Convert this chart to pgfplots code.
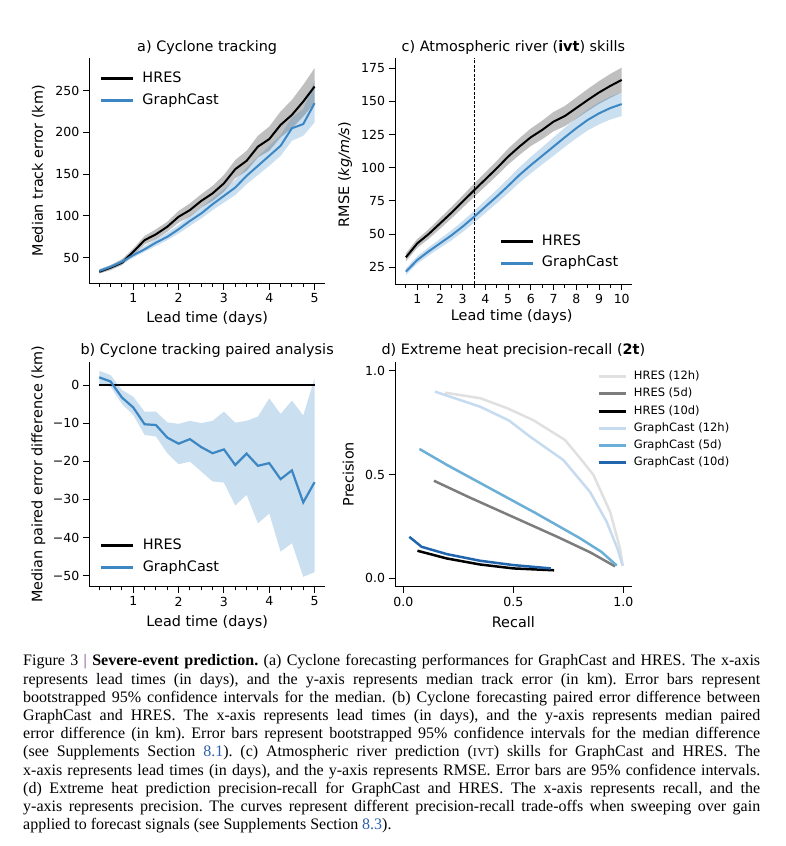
\documentclass[border=0pt]{standalone}
\usepackage{pgfplots}
\pgfplotsset{compat=1.18}
\usepackage{pgfplotstable}
\usepackage{fontspec}
\setmainfont{DejaVu Sans}
\newfontfamily\capfont{Liberation Serif}

\definecolor{gcblue}{RGB}{60,135,195}
\definecolor{hres12}{RGB}{224,224,224}
\definecolor{hres5}{RGB}{125,125,125}
\definecolor{gc12}{RGB}{198,219,239}
\definecolor{gc5}{RGB}{107,174,214}
\definecolor{gc10}{RGB}{33,102,172}
\definecolor{capblue}{RGB}{45,95,170}
\definecolor{capbar}{RGB}{120,60,130}

% a) median track error (km)
\pgfplotstableread{
x    hres gc
0.25 33   34
0.50 38   39
0.75 44   45
1.00 57   53
1.25 71   60
1.50 78   68
1.75 87   75
2.00 99   84
2.25 107  94
2.50 118  103
2.75 127  114
3.00 139  124
3.25 156  134
3.50 166  148
3.75 183  160
4.00 192  172
4.25 209  184
4.50 221  205
4.75 237  210
5.00 255  235
}\cyctrack

% b) paired error difference (km)
\pgfplotstableread{
x    gc
0.25 2.0
0.50 0.9
0.75 -3.3
1.00 -5.9
1.25 -10.3
1.50 -10.5
1.75 -13.8
2.00 -15.4
2.25 -14.2
2.50 -16.3
2.75 -17.9
3.00 -16.9
3.25 -21.0
3.50 -18.0
3.75 -21.2
4.00 -20.5
4.25 -24.7
4.50 -22.4
4.75 -30.8
5.00 -25.5
}\cycpair

% c) ivt RMSE
\pgfplotstableread{
x    hres  gc
0.5  32.5  21.7
1.0  43.0  30.5
1.5  50.0  37.0
2.0  58.0  43.0
2.5  66.0  49.0
3.0  74.5  55.7
3.5  83.0  63.0
4.0  91.3  70.7
4.5  99.6  78.3
5.0  108.4 86.3
5.5  116.0 94.6
6.0  123.0 102.0
6.5  128.5 109.0
7.0  134.8 116.0
7.5  139.0 123.0
8.0  145.0 129.8
8.5  151.0 136.0
9.0  156.7 141.0
9.5  161.7 145.0
10.0 166.2 148.0
}\ivt

\pgfplotsset{
  mpl/.style={
    scale only axis,
    axis x line*=bottom, axis y line*=left,
    axis line style={-, line width=0.9pt},
    tick align=outside,
    major tick length=6.5pt, minor tick length=3.8pt,
    every tick/.style={black, line width=0.9pt},
    tick label style={font=\fontsize{12.5}{14}\selectfont},
    /pgf/number format/assume math mode=true,
    label style={font=\fontsize{14.4}{16}\selectfont},
    xlabel style={at={(axis description cs:0.5,-0.155)}, anchor=center},
    title style={font=\fontsize{14.4}{16}\selectfont, at={(axis description cs:0.5,1.005)}, anchor=base},
    legend cell align=left,
    legend image code/.code={\draw[##1, line width=3.2pt] (0pt,0pt) -- (32pt,0pt); \path (39pt,0pt);},
    legend style={draw=none, fill=none, anchor=north west, inner sep=0pt,
      font=\fontsize{14.4}{16}\selectfont, row sep=5.2pt,
      nodes={inner sep=1pt, text height=11pt, text depth=3.5pt}},
  },
  hband/.style={draw=none, fill=black, fill opacity=0.25, forget plot},
  gband/.style={draw=none, fill=gcblue, fill opacity=0.27, forget plot},
}

\begin{document}
\begin{tikzpicture}
\path[use as bounding box] (0,0) rectangle (785pt,846pt);

% ---------- a) Cyclone tracking
\begin{axis}[mpl, at={(89.3pt,562.7pt)}, anchor=south west,
  width=235.7pt, height=225pt,
  xmin=0.03, xmax=5.23, ymin=19.3, ymax=288.8,
  xtick={1,2,3,4,5}, minor xtick={0.25,0.5,...,5},
  ytick={50,100,150,200,250},
  title={a) Cyclone tracking},
  xlabel={Lead time (days)}, ylabel={Median track error (km)},
  ylabel style={at={(axis description cs:-0.216,0.5)}, anchor=center},
  legend style={at={(axis description cs:0.044,0.946)}}]
  \addplot[hband] coordinates {
    (0.25,36) (0.5,41) (0.75,48) (1,61) (1.25,76) (1.5,84) (1.75,93) (2,106)
    (2.25,115) (2.5,126) (2.75,136) (3,149) (3.25,167) (3.5,178) (3.75,196)
    (4,207) (4.25,225) (4.5,239) (4.75,257) (5,277)
    (5,235) (4.75,219) (4.5,205) (4.25,194) (4,178) (3.75,170) (3.5,154)
    (3.25,145) (3,129) (2.75,118) (2.5,110) (2.25,99) (2,92) (1.75,81)
    (1.5,72) (1.25,66) (1,53) (0.75,41) (0.5,35) (0.25,31)};
  \addplot[gband] coordinates {
    (0.25,36) (0.5,41) (0.75,48) (1,56) (1.25,64) (1.5,72) (1.75,80) (2,89)
    (2.25,100) (2.5,110) (2.75,121) (3,132) (3.25,143) (3.5,158) (3.75,171)
    (4,184) (4.25,197) (4.5,218) (4.75,228) (5,262)
    (5,212) (4.75,196) (4.5,190) (4.25,172) (4,160) (3.75,149) (3.5,138)
    (3.25,125) (3,116) (2.75,107) (2.5,97) (2.25,88) (2,79) (1.75,71)
    (1.5,64) (1.25,57) (1,50) (0.75,42) (0.5,37) (0.25,32)};
  \addplot[black, line width=2pt] table[x=x, y=hres] {\cyctrack};
  \addlegendentry{HRES}
  \addplot[gcblue, line width=2pt] table[x=x, y=gc] {\cyctrack};
  \addlegendentry{GraphCast}
\end{axis}

% ---------- b) Cyclone tracking paired analysis
\begin{axis}[mpl, at={(89.3pt,259.3pt)}, anchor=south west,
  width=235.7pt, height=225pt,
  xmin=0.03, xmax=5.23, ymin=-52.9, ymax=6.1,
  xtick={1,2,3,4,5}, minor xtick={0.25,0.5,...,5},
  ytick={0,-10,-20,-30,-40,-50},
  yticklabels={0,−10,−20,−30,−40,−50},
  title={b) Cyclone tracking paired analysis},
  xlabel={Lead time (days)}, ylabel={Median paired error difference (km)},
  xlabel style={at={(axis description cs:0.5,-0.161)}},
  ylabel style={at={(axis description cs:-0.216,0.5)}, anchor=center},
  legend style={at={(axis description cs:0.044,0.22)}}]
  \addplot[gband] coordinates {
    (0.25,3.7) (0.5,2.6) (0.75,-1.3) (1,-3.1) (1.25,-7) (1.5,-7) (1.75,-9.8)
    (2,-10.2) (2.25,-9.4) (2.5,-10) (2.75,-9.4) (3,-7) (3.25,-9.9) (3.5,-9.4)
    (3.75,-8.3) (4,-3.5) (4.25,-7.6) (4.5,-4.1) (4.75,-8) (5,1.7)
    (5,-49.1) (4.75,-50.3) (4.5,-41.5) (4.25,-43.7) (4,-33.7) (3.75,-36.3)
    (3.5,-28.8) (3.25,-31.6) (3,-25.6) (2.75,-25.3) (2.5,-22.7) (2.25,-20.1)
    (2,-20.8) (1.75,-17.9) (1.5,-13.5) (1.25,-13.1) (1,-7.9) (0.75,-5)
    (0.5,-0.5) (0.25,0.3)};
  \addplot[black, line width=2.6pt] coordinates {(0.25,0) (5,0)};
  \addlegendentry{HRES}
  \addplot[gcblue, line width=2.2pt] table[x=x, y=gc] {\cycpair};
  \addlegendentry{GraphCast}
\end{axis}

% ---------- c) Atmospheric river (ivt) skills
\begin{axis}[mpl, at={(395pt,562pt)}, anchor=south west,
  width=236.7pt, height=225.7pt,
  xmin=0.02, xmax=10.44, ymin=12.4, ymax=182.5,
  xtick={1,2,...,10}, minor xtick={0.5,1,...,10},
  ytick={25,50,...,175},
  title={c) Atmospheric river (\textbf{ivt}) skills},
  xlabel={Lead time (days)}, ylabel={RMSE (\textit{kg/m/s})},
  xlabel style={at={(axis description cs:0.493,-0.145)}},
  ylabel style={at={(axis description cs:-0.211,0.485)}, anchor=center},
  legend style={at={(axis description cs:0.44,0.226)}}]
  \addplot[hband] coordinates {
    (0.5,35.5) (1,46.3) (1.5,53.6) (2,62) (2.5,70.3) (3,79.1) (3.5,88) (4,96.6)
    (4.5,105.2) (5,114.4) (5.5,122.3) (6,129.6) (6.5,135.5) (7,142.1)
    (7.5,146.6) (8,153) (8.5,159.3) (9,165.3) (9.5,170.7) (10,175.5)
    (10,156.9) (9.5,152.7) (9,148.1) (8.5,142.7) (8,137) (7.5,131.4) (7,127.5)
    (6.5,121.5) (6,116.4) (5.5,109.7) (5,102.4) (4.5,94) (4,86) (3.5,78)
    (3,69.9) (2.5,61.7) (2,54) (1.5,46.4) (1,39.7) (0.5,29.5)};
  \addplot[gband] coordinates {
    (0.5,24.2) (1,33.3) (1.5,40.1) (2,46.4) (2.5,52.8) (3,59.8) (3.5,67.4)
    (4,75.5) (4.5,83.4) (5,91.8) (5.5,100.4) (6,108.2) (6.5,115.5) (7,122.9)
    (7.5,130.2) (8,137.4) (8.5,143.9) (9,149.3) (9.5,153.6) (10,157)
    (10,139) (9.5,136.4) (9,132.7) (8.5,128.1) (8,122.2) (7.5,115.8) (7,109.1)
    (6.5,102.5) (6,95.8) (5.5,88.8) (5,80.8) (4.5,73.2) (4,65.9) (3.5,58.6)
    (3,51.6) (2.5,45.2) (2,39.6) (1.5,33.9) (1,27.7) (0.5,19.2)};
  \addplot[black, line width=0.9pt, dash pattern=on 3pt off 1.5pt, forget plot]
    coordinates {(3.5,12.4) (3.5,182.5)};
  \addplot[black, line width=2pt] table[x=x, y=hres] {\ivt};
  \addlegendentry{HRES}
  \addplot[gcblue, line width=2pt] table[x=x, y=gc] {\ivt};
  \addlegendentry{GraphCast}
\end{axis}

% ---------- d) Extreme heat precision-recall (2t)
\begin{axis}[mpl, at={(395pt,259.3pt)}, anchor=south west,
  width=236.7pt, height=225pt,
  xmin=-0.038, xmax=1.038, ymin=-0.04, ymax=1.043,
  xtick={0,0.5,1}, xticklabels={0.0,0.5,1.0},
  ytick={0,0.5,1}, yticklabels={0.0,0.5,1.0},
  title={d) Extreme heat precision-recall (\textbf{2t})},
  xlabel={Recall}, ylabel={Precision},
  xlabel style={at={(axis description cs:0.5,-0.156)}},
  ylabel style={at={(axis description cs:-0.197,0.5)}, anchor=center},
  legend image code/.code={\draw[#1, line width=3pt] (0pt,0pt) -- (27pt,0pt); \path (33pt,0pt);},
  legend style={at={(axis description cs:0.853,0.963)}, row sep=4.2pt,
    font=\fontsize{11.5}{13}\selectfont,
    nodes={inner sep=1pt, text height=8.5pt, text depth=2.5pt}}]
  \addplot[hres12, line width=2.5pt] coordinates {
    (0.19,0.894) (0.35,0.867) (0.47,0.82) (0.59,0.762) (0.735,0.666)
    (0.81,0.57) (0.864,0.498) (0.94,0.32) (0.985,0.144) (0.997,0.061)};
  \addlegendentry{HRES (12h)}
  \addplot[hres5, line width=2.5pt] coordinates {
    (0.139,0.470) (0.3,0.39) (0.5,0.295) (0.7,0.2) (0.85,0.125) (0.962,0.058)};
  \addlegendentry{HRES (5d)}
  \addplot[black, line width=2.5pt] coordinates {
    (0.064,0.133) (0.197,0.096) (0.348,0.067) (0.5,0.048) (0.685,0.039)};
  \addlegendentry{HRES (10d)}
  \addplot[gc12, line width=2.5pt] coordinates {
    (0.144,0.899) (0.348,0.827) (0.48,0.76) (0.576,0.682) (0.727,0.570)
    (0.848,0.417) (0.924,0.273) (0.973,0.144) (0.997,0.061)};
  \addlegendentry{GraphCast (12h)}
  \addplot[gc5, line width=2.5pt] coordinates {
    (0.073,0.623) (0.2,0.545) (0.4,0.43) (0.6,0.315) (0.8,0.195) (0.9,0.128) (0.97,0.062)};
  \addlegendentry{GraphCast (5d)}
  \addplot[gc10, line width=2.5pt] coordinates {
    (0.027,0.2) (0.083,0.152) (0.197,0.117) (0.348,0.085) (0.5,0.064) (0.67,0.048)};
  \addlegendentry{GraphCast (10d)}
\end{axis}

% ---------- caption
\node[anchor=base west, inner sep=0pt] at (23pt,180pt) {\parbox[t]{737pt}{%
  \capfont\fontsize{16}{18.2}\selectfont\frenchspacing
  \makebox[737pt][s]{Figure 3 \textcolor{capbar}{|} \textbf{Severe-event prediction.} (a) Cyclone forecasting performances for GraphCast and HRES. The x-axis}\\
  \makebox[737pt][s]{represents lead times (in days), and the y-axis represents median track error (in km). Error bars represent}\\
  \makebox[737pt][s]{bootstrapped 95\% confidence intervals for the median. (b) Cyclone forecasting paired error difference between}\\
  \makebox[737pt][s]{GraphCast and HRES. The x-axis represents lead times (in days), and the y-axis represents median paired}\\
  \makebox[737pt][s]{error difference (in km). Error bars represent bootstrapped 95\% confidence intervals for the median difference}\\
  \makebox[737pt][s]{(see Supplements Section \textcolor{capblue}{8.1}). (c) Atmospheric river prediction ({\fontsize{12}{12}\selectfont I\kern0.5pt V\kern0.5pt T}) skills for GraphCast and HRES. The}\\
  \makebox[737pt][s]{x-axis represents lead times (in days), and the y-axis represents RMSE. Error bars are 95\% confidence intervals.}\\
  \makebox[737pt][s]{(d) Extreme heat prediction precision-recall for GraphCast and HRES. The x-axis represents recall, and the}\\
  \makebox[737pt][s]{y-axis represents precision. The curves represent different precision-recall trade-offs when sweeping over gain}\\
  \makebox[737pt][l]{applied to forecast signals (see Supplements Section \textcolor{capblue}{8.3}).}}};
\end{tikzpicture}
\end{document}
